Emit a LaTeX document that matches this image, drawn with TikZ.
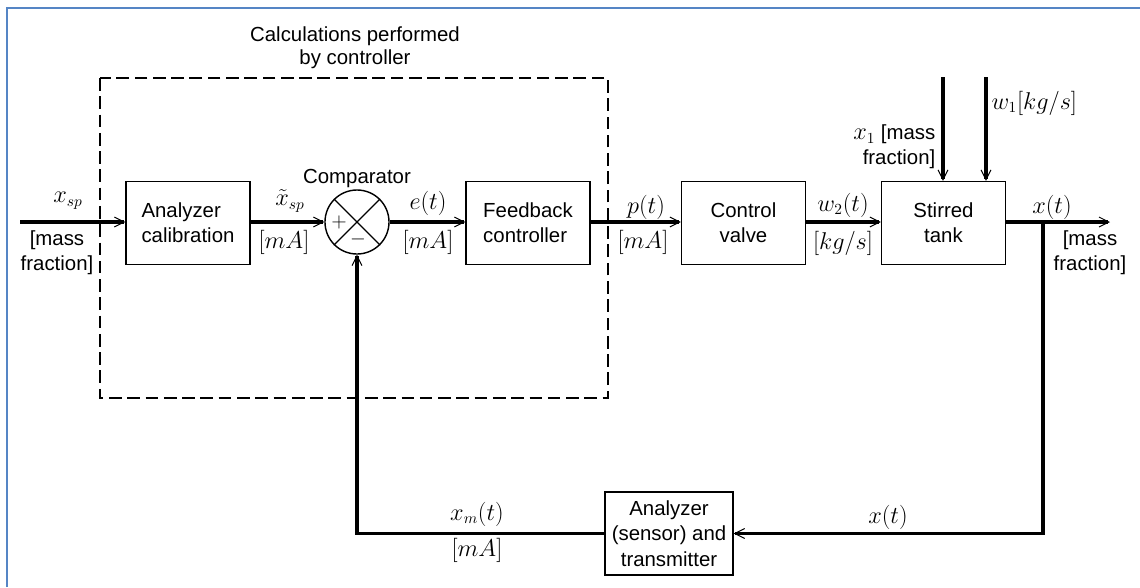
\documentclass[tikz,border=0pt]{standalone}
\usepackage{fontspec}
\setmainfont{Liberation Sans}
\usetikzlibrary{arrows.meta}
\definecolor{framecol}{HTML}{5585C5}
\begin{document}
\begin{tikzpicture}[
        x=0.025cm, y=-0.025cm,
        >={Straight Barb[length=7pt, width=7pt, line width=0.7pt]},
        every node/.style={font=\fontsize{14.5}{18}\selectfont},
        block/.style={rectangle, draw=black, line width=1pt, minimum width=3.1cm, minimum height=2.075cm, align=center, inner sep=2pt, fill=white},
        summer/.style={circle, draw=black, line width=1pt, minimum size=1.6cm, inner sep=0pt},
        signal/.style={->, line width=2.2pt},
        lbl/.style={inner sep=1pt},
        mlbl/.style={inner sep=1pt, font=\fontsize{16}{18}\selectfont}
    ]
        \useasboundingbox (0,0) rectangle (1140,587);
        % Frame (only left and top edges)
        \draw[framecol, line width=1.5pt] (7,587) -- (7,8) -- (1140,8);

        % Controller boundary
        \draw[dash pattern=on 9pt off 4pt, line width=0.9pt] (100,78) rectangle (608,398);
        \node[align=center, font=\fontsize{14.5}{16.5}\selectfont] (title) at (355,48) {Calculations performed\\by controller};

        % Blocks
        \node[block, align=left] (calib) at (188,223) {Analyzer\\calibration};
        \node[summer] (comp) at (357,222) {};
        \node[block, align=left] (fbc) at (528,223) {Feedback\\controller};
        \node[block] (valve) at (743.5,223) {Control\\valve};
        \node[block] (tank) at (943.5,223) {Stirred\\tank};
        \node[block, minimum width=3.2cm] (sensor) at (669,533.5) {Analyzer\\(sensor) and\\transmitter};

        % Comparator cross and signs
        \draw[line width=0.8pt] (comp.north west) -- (comp.south east);
        \draw[line width=0.8pt] (comp.south west) -- (comp.north east);
        \node (plus) at (339,222) {$+$};
        \node (minus) at (358,239) {$-$};
        \node (complbl) at (357,178) {Comparator};

        % Free ends
        \coordinate (in) at (20,222);
        \coordinate (out) at (1110,222);
        \coordinate (br) at (1043,222);
        \coordinate (x1in) at (943,77);
        \coordinate (w1in) at (986,77);

        % Forward path
        \draw[signal] (in) -- (calib.west |- in);
        \draw[signal] (calib.east |- comp) -- (comp.west);
        \draw[signal] (comp.east) -- (fbc.west |- comp);
        \draw[signal] (fbc.east |- comp) -- (valve.west |- comp);
        \draw[signal] (valve.east |- comp) -- (tank.west |- comp);
        \draw[signal] (tank.east |- comp) -- (out);
        \draw[signal] (x1in) -- (x1in |- tank.north);
        \draw[signal] (w1in) -- (w1in |- tank.north);

        % Feedback path
        \draw[signal] (br) |- (sensor.east);
        \draw[signal] (sensor.west) -| (comp.south);

        % Signal labels
        \node[mlbl] (xsp) at (68,201) {$x_{sp}$};
        \node[lbl, align=center] (xspu) at (57,253) {[mass\\fraction]};
        \node[mlbl] (xspt) at (290,201) {$\tilde{x}_{sp}$};
        \node[mlbl] (xsptu) at (284,242) {$[mA]$};
        \node[mlbl] (et) at (428,203) {$e(t)$};
        \node[mlbl] (etu) at (428,242) {$[mA]$};
        \node[mlbl] (pt) at (646,207) {$p(t)$};
        \node[mlbl] (ptu) at (643,242) {$[mA]$};
        \node[mlbl] (w2) at (843,205) {$w_2(t)$};
        \node[mlbl] (w2u) at (843,243) {$[kg/s]$};
        \node[mlbl] (xt) at (1052,207) {$x(t)$};
        \node[lbl, align=center] (xtu) at (1090,253) {[mass\\fraction]};
        \node[lbl, anchor=east, align=right] (x1) at (937,147) {{\fontsize{16}{18}\selectfont$x_1$} [mass\\fraction]};
        \node[mlbl, anchor=west] (w1) at (990,103) {$w_1[kg/s]$};
        \node[mlbl] (xm) at (477,514) {$x_m(t)$};
        \node[mlbl] (xmu) at (477,550) {$[mA]$};
        \node[mlbl] (xfb) at (888,517) {$x(t)$};
    \end{tikzpicture}
\end{document}
